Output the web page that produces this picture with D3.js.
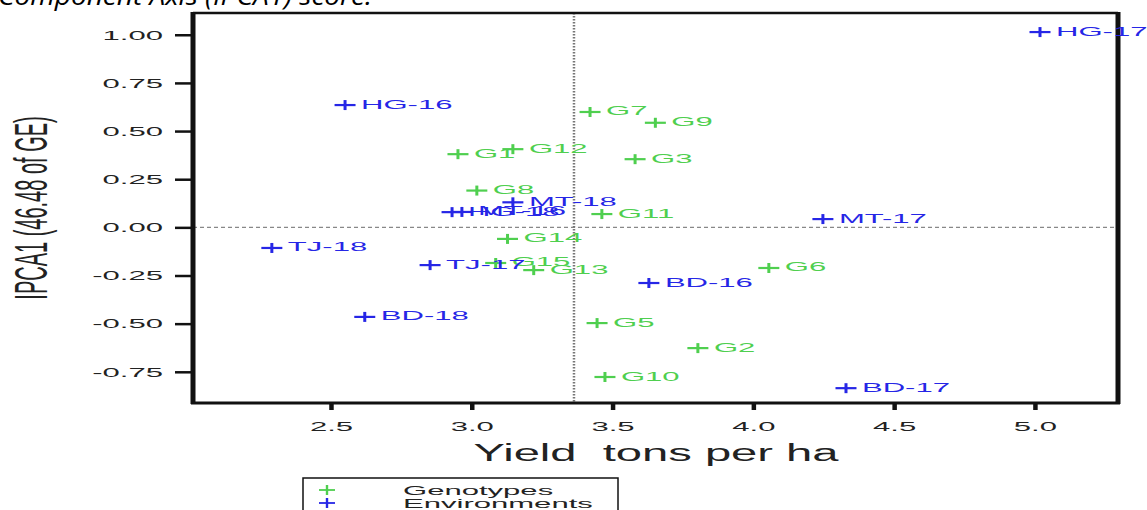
<!DOCTYPE html>
<html>
  <head>
    <meta charset="utf-8">
    <title>AMMI biplot</title>
    <script src="https://d3js.org/d3.v7.min.js"></script>
    <style>
      body { margin: 0; background: #fff; }
      svg { display: block; font-family: "Liberation Sans", Arial, sans-serif; }
    </style>
  </head>
  <body>
    <svg id="chart" width="1147" height="510"></svg>
    <script>
      // genotype scores (mean yield, IPCA1)
      genotypes = ["G1", "G2", "G3", "G5", "G6", "G7", "G8", "G9", "G10", "G11", "G12", "G13", "G14", "G15"];
      genoYield = [2.951, 3.803, 3.58, 3.445, 4.055, 3.42, 3.018, 3.652, 3.473, 3.462, 3.146, 3.22, 3.127, 3.085];
      genoIPCA = [0.38, -0.627, 0.354, -0.497, -0.211, 0.599, 0.191, 0.543, -0.777, 0.069, 0.406, -0.222, -0.06, -0.185];
      // environment scores
      environments = ["HG-16", "HG-17", "HG-18", "MT-16", "MT-17", "MT-18", "TJ-17", "TJ-18", "BD-16", "BD-17", "BD-18"];
      envYield = [2.55, 5.018, 2.93, 2.965, 4.247, 3.146, 2.852, 2.29, 3.629, 4.329, 2.62];
      envIPCA = [0.635, 1.014, 0.079, 0.08, 0.043, 0.13, -0.196, -0.107, -0.289, -0.835, -0.465];
      grandMean = 3.363;
      xTicks = [2.5, 3, 3.5, 4, 4.5, 5];
      yTicks = [-0.75, -0.5, -0.25, 0, 0.25, 0.5, 0.75, 1];
      legendLabels = ["Genotypes", "Environments"];

      // page elements
      chart = d3.select("#chart");
      width = 1147;
      height = 510;
      margin = { top: 13, right: 29, bottom: 107, left: 193 };
      stretch = 2.3; // the source picture is pulled wide, so text is too
      green = "#4fcf4f";
      blue = "#2626e6";

      // scales
      x = d3.scaleLinear()
        .domain([2.01, 5.295])
        .range([margin.left, width - margin.right]);
      y = d3.scaleLinear()
        .domain([-0.912, 1.113])
        .range([height - margin.bottom, margin.top]);

      // stretch text sideways about its anchor
      function squash(sel, sx) {
        sel.each(function() {
          let t = d3.select(this);
          let tx = +t.attr("x") || 0, ty = +t.attr("y") || 0;
          t.attr("x", 0).attr("y", 0)
            .attr("transform", "translate(" + tx + "," + ty + ") scale(" + (sx || stretch) + ",1)");
        });
      }

      // caption cut off at the top
      chart.append("text")
        .attr("x", -2)
        .attr("y", 5)
        .attr("font-family", "'Open Sans', 'Liberation Sans', sans-serif")
        .attr("font-style", "italic")
        .attr("font-size", 26)
        .attr("textLength", 374)
        .attr("lengthAdjust", "spacingAndGlyphs")
        .text("Component Axis (IPCA1) score.");

      // axes
      yAxis = chart.append("g")
        .attr("transform", "translate(" + margin.left + ",0)")
        .call(d3.axisLeft(y).tickValues(yTicks).tickFormat(function(d) { return d.toFixed(2); })
          .tickSize(18).tickPadding(12));
      xAxis = chart.append("g")
        .attr("transform", "translate(0," + (height - margin.bottom) + ")")
        .call(d3.axisBottom(x).tickValues(xTicks).tickFormat(d3.format(".1f"))
          .tickSize(7).tickPadding(11));
      chart.selectAll(".domain").remove();
      yAxis.attr("font-family", null).attr("font-size", null);
      xAxis.attr("font-family", null).attr("font-size", null);
      yAxis.selectAll(".tick line").attr("stroke", "#111").attr("stroke-width", 2.5);
      xAxis.selectAll(".tick line").attr("stroke", "#111").attr("stroke-width", 4.5);
      chart.selectAll(".tick text")
        .attr("fill", "#222")
        .attr("font-size", 13.5)
        .call(squash);

      // reference lines
      chart.append("line")
        .attr("x1", margin.left)
        .attr("x2", width - margin.right)
        .attr("y1", y(0))
        .attr("y2", y(0))
        .attr("stroke", "#888")
        .attr("stroke-width", 1.2)
        .attr("stroke-dasharray", "4,3");
      chart.append("line")
        .attr("x1", x(grandMean))
        .attr("x2", x(grandMean))
        .attr("y1", margin.top)
        .attr("y2", height - margin.bottom)
        .attr("stroke", "#777")
        .attr("stroke-width", 2.5)
        .attr("stroke-dasharray", "1.5,1.5");

      // frame
      frame = chart.append("g").attr("stroke", "#111");
      frame.append("line").attr("x1", margin.left).attr("x2", width - margin.right)
        .attr("y1", margin.top).attr("y2", margin.top).attr("stroke-width", 2.5);
      frame.append("line").attr("x1", margin.left - 2).attr("x2", width - margin.right + 2)
        .attr("y1", height - margin.bottom).attr("y2", height - margin.bottom).attr("stroke-width", 3);
      frame.append("line").attr("x1", margin.left).attr("x2", margin.left)
        .attr("y1", margin.top - 1).attr("y2", height - margin.bottom + 1).attr("stroke-width", 5);
      frame.append("line").attr("x1", width - margin.right).attr("x2", width - margin.right)
        .attr("y1", margin.top - 1).attr("y2", height - margin.bottom + 1).attr("stroke-width", 5);

      // points with labels
      function drawPoints(names, xs, ys, colour) {
        let pts = chart.append("g")
          .selectAll("g")
          .data(names.map(function(n, i) { return { name: n, x: xs[i], y: ys[i] }; }))
          .join("g")
          .attr("transform", function(d) { return "translate(" + x(d.x) + "," + y(d.y) + ")"; });
        pts.append("line")
          .attr("x1", -10.5).attr("x2", 10.5)
          .attr("stroke", colour).attr("stroke-width", 2.2);
        pts.append("line")
          .attr("y1", -5).attr("y2", 5)
          .attr("stroke", colour).attr("stroke-width", 3);
        pts.append("text")
          .attr("x", 16)
          .attr("dy", 3.5)
          .attr("fill", colour)
          .attr("font-size", 13.5)
          .text(function(d) { return d.name; })
          .call(squash);
      }
      drawPoints(genotypes, genoYield, genoIPCA, green);
      drawPoints(environments, envYield, envIPCA, blue);

      // axis titles
      chart.append("text")
        .attr("transform", "translate(31,208) scale(" + stretch + ",1) rotate(-90)")
        .attr("text-anchor", "middle")
        .attr("dy", "0.35em")
        .attr("font-size", 20)
        .attr("fill", "#222")
        .text("IPCA1 (46.48 of GE)");
      chart.append("text")
        .attr("x", 656)
        .attr("y", 461)
        .attr("text-anchor", "middle")
        .attr("font-size", 23)
        .attr("fill", "#222")
        .style("white-space", "pre")
        .text("Yield  tons per ha")
        .call(squash, 2.05);

      // legend
      legend = chart.append("g");
      legend.append("rect")
        .attr("x", 303)
        .attr("y", 478)
        .attr("width", 315)
        .attr("height", 40)
        .attr("fill", "none")
        .attr("stroke", "#111")
        .attr("stroke-width", 1.5);
      keys = legend.selectAll(".key")
        .data(legendLabels)
        .join("g")
        .attr("class", "key")
        .attr("transform", function(d, i) { return "translate(327," + (490 + i * 13) + ")"; });
      keyColours = [green, blue];
      keys.append("line")
        .attr("x1", -8).attr("x2", 8)
        .attr("stroke", function(d, i) { return keyColours[i]; })
        .attr("stroke-width", 1.8);
      keys.append("line")
        .attr("y1", -5).attr("y2", 5)
        .attr("stroke", function(d, i) { return keyColours[i]; })
        .attr("stroke-width", 2.4);
      keys.append("text")
        .attr("x", 76)
        .attr("dy", 4.5)
        .attr("font-size", 13.5)
        .attr("fill", "#222")
        .text(function(d) { return d; })
        .call(squash);
    </script>
  </body>
</html>
